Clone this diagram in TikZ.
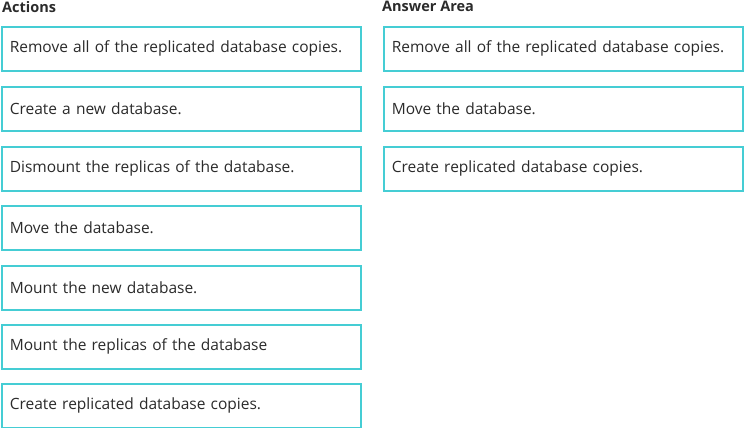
\documentclass[tikz,border=0pt]{standalone}
\usepackage{fontspec}
\setmainfont{Open Sans}
\usepackage{xcolor}
\usepackage{tikz}
\definecolor{text}{HTML}{2B2B2B}
\definecolor{frame}{HTML}{45CDD4}
\tikzset{
  item/.style={draw=frame, line width=1.6pt, fill=white, anchor=north west,
    minimum width=359pt, minimum height=44pt, inner xsep=8pt,
    text width=343pt, align=left, font=\fontsize{15.5}{18}\selectfont},
  head/.style={anchor=north west, inner sep=0pt, font=\bfseries\fontsize{14.5}{17}\selectfont},
  every node/.style={text=text}
}

\begin{document}
\begin{tikzpicture}[x=1pt,y=1pt]
  \useasboundingbox (0,0) rectangle (744,-428);

  \node[head] (hact) at (2,-1) {Actions};
  \node[head] (hans) at (382,-1) {Answer Area};

  \node[item] (a1) at (1,-26) {Remove all of the replicated database copies.};
  \node[item] (a2) at (1,-86) {Create a new database.};
  \node[item] (a3) at (1,-146) {Dismount the replicas of the database.};
  \node[item] (a4) at (1,-205) {Move the database.};
  \node[item] (a5) at (1,-265) {Mount the new database.};
  \node[item] (a6) at (1,-324) {Mount the replicas of the database};
  \node[item] (a7) at (1,-383) {Create replicated database copies.};

  \node[item] (b1) at (383,-26) {Remove all of the replicated database copies.};
  \node[item] (b2) at (383,-86) {Move the database.};
  \node[item] (b3) at (383,-146) {Create replicated database copies.};
\end{tikzpicture}
\end{document}
